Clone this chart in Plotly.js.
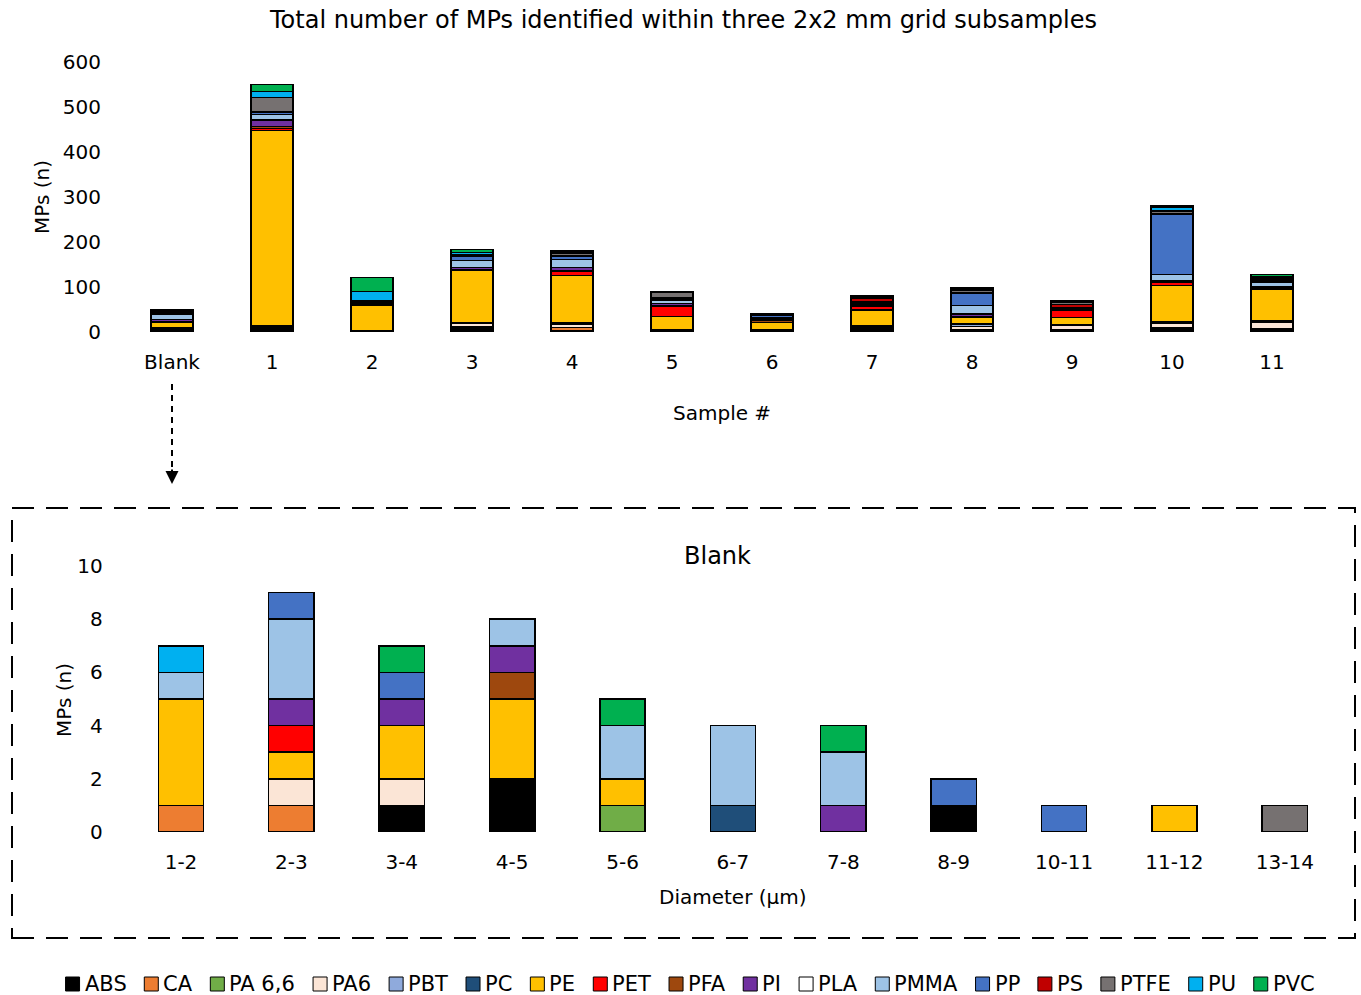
<!DOCTYPE html>
<html><head><meta charset="utf-8">
<script src="https://cdn.plot.ly/plotly-3.0.1.min.js"></script>
<style>html,body{margin:0;padding:0;background:#fff}#chart{width:1361px;height:995px}</style>
</head><body><div id="chart"></div>
<script>
// ---------- data ----------
const polymers = ["ABS","CA","PA 6,6","PA6","PBT","PC","PE","PET","PFA","PI","PLA","PMMA","PP","PS","PTFE","PU","PVC"];
const polymerColors = ["#000000","#ED7D31","#70AD47","#FBE5D6","#8FAADC","#1F4E79","#FFC000","#FF0000","#9E480E","#7030A0","#FFFFFF","#9DC3E6","#4472C4","#C00000","#767171","#00B0F0","#00B050"];

// Top chart: samples
const samples = ["Blank","1","2","3","4","5","6","7","8","9","10","11"];
const topABS   = [4,6,2,10,4,3,4,13,5,5,8,6];
const topCA    = [2,3,0,1,6,0,0,1,1,1,1,1];
const topPA66  = [1,1,0,0,0,0,0,0,0,0,1,0];
const topPA6   = [2,2,1,8,7,2,1,1,7,9,9,15];
const topPBT   = [0,1,0,2,3,0,0,0,3,0,2,2];
const topPC    = [1,1,0,1,0,0,1,0,2,1,3,2];
const topPE    = [12,434,56,115,106,30,15,34,14,17,80,68];
const topPET   = [1,5,1,1,8,22,1,8,2,14,7,1];
const topPFA   = [1,3,0,0,2,1,3,3,1,2,1,1];
const topPI    = [4,15,4,5,8,6,2,3,5,2,2,4];
const topPLA   = [0,1,0,0,0,0,0,0,1,0,1,0];
const topPMMA  = [12,12,2,16,18,7,4,2,18,2,13,11];
const topPP    = [4,3,2,8,6,3,5,3,26,1,134,3];
const topPS    = [0,3,0,2,2,2,1,6,3,8,2,2];
const topPTFE  = [1,32,2,3,4,12,2,4,4,3,5,4];
const topPU    = [1,12,20,4,3,1,1,2,3,2,7,3];
const topPVC   = [3,16,32,8,3,1,2,2,3,3,4,4];

// Bottom chart: blank by diameter
const diameters = ["1-2","2-3","3-4","4-5","5-6","6-7","7-8","8-9","10-11","11-12","13-14"];
const blankABS  = [0,0,1,2,0,0,0,1,0,0,0];
const blankCA   = [1,1,0,0,0,0,0,0,0,0,0];
const blankPA66 = [0,0,0,0,1,0,0,0,0,0,0];
const blankPA6  = [0,1,1,0,0,0,0,0,0,0,0];
const blankPBT  = [0,0,0,0,0,0,0,0,0,0,0];
const blankPC   = [0,0,0,0,0,1,0,0,0,0,0];
const blankPE   = [4,1,2,3,1,0,0,0,0,1,0];
const blankPET  = [0,1,0,0,0,0,0,0,0,0,0];
const blankPFA  = [0,0,0,1,0,0,0,0,0,0,0];
const blankPI   = [0,1,1,1,0,0,1,0,0,0,0];
const blankPLA  = [0,0,0,0,0,0,0,0,0,0,0];
const blankPMMA = [1,3,0,1,2,3,2,0,0,0,0];
const blankPP   = [0,1,1,0,0,0,0,1,1,0,0];
const blankPS   = [0,0,0,0,0,0,0,0,0,0,0];
const blankPTFE = [0,0,0,0,0,0,0,0,0,0,1];
const blankPU   = [1,0,0,0,0,0,0,0,0,0,0];
const blankPVC  = [0,0,1,0,1,0,1,0,0,0,0];

const topSeries = [topABS,topCA,topPA66,topPA6,topPBT,topPC,topPE,topPET,topPFA,topPI,topPLA,topPMMA,topPP,topPS,topPTFE,topPU,topPVC];
const blankSeries = [blankABS,blankCA,blankPA66,blankPA6,blankPBT,blankPC,blankPE,blankPET,blankPFA,blankPI,blankPLA,blankPMMA,blankPP,blankPS,blankPTFE,blankPU,blankPVC];

// ---------- layout helpers ----------
const W = 1361, H = 995;
const px = x => x / W;
const py = y => 1 - y / H;
const FAM = "DejaVu Sans";
const FONT = "'DejaVu Sans', sans-serif";
const nz = arr => arr.map(v => v === 0 ? null : v);

const traces = [];
polymers.forEach((name, i) => {
  traces.push({
    type: "bar", name: name, x: samples, y: nz(topSeries[i]),
    xaxis: "x", yaxis: "y", width: 0.42, legendgroup: name,
    marker: {color: polymerColors[i], line: {color: "#000", width: 1.2}},
    hoverinfo: "x+y+name"
  });
});
polymers.forEach((name, i) => {
  traces.push({
    type: "bar", name: name, x: diameters, y: nz(blankSeries[i]),
    xaxis: "x2", yaxis: "y2", width: 0.41, legendgroup: name, showlegend: false,
    marker: {color: polymerColors[i], line: {color: "#000", width: 1.5}},
    hoverinfo: "x+y+name"
  });
});

// ---------- legend built from the series names (measured text) ----------
const legFont = 21;
const cv = document.createElement("canvas").getContext("2d");
cv.font = legFont + "px '" + FAM + "'";
const sq = 14, sqGap = 5, itemGap = 18;
const widths = polymers.map(n => cv.measureText(n).width);
const totalW = widths.reduce((a, w) => a + sq + sqGap + w + itemGap, 0) - itemGap;
const legCenterX = 690, legY = 984;
let cx = legCenterX - totalW / 2;
const legShapes = [], legAnn = [];
polymers.forEach((n, i) => {
  legShapes.push({type: "rect", xref: "paper", yref: "paper",
    x0: px(cx), x1: px(cx + sq), y0: py(legY + sq / 2), y1: py(legY - sq / 2),
    fillcolor: polymerColors[i], line: {color: "#000", width: 1}});
  legAnn.push({xref: "paper", yref: "paper", x: px(cx + sq + sqGap - 1), y: py(legY),
    text: n, showarrow: false, xanchor: "left", yanchor: "middle", borderpad: 0,
    font: {family: FONT, size: legFont, color: "#000"}});
  cx += sq + sqGap + widths[i] + itemGap;
});

const axisFont = {family: FONT, size: 20, color: "#000"};
const layout = {
  width: W, height: H,
  margin: {l: 0, r: 0, t: 0, b: 0, autoexpand: false},
  paper_bgcolor: "#fff", plot_bgcolor: "rgba(0,0,0,0)",
  barmode: "stack",
  font: {family: FONT, color: "#000"},
  showlegend: false,
  xaxis: {domain: [px(122), px(1322)], anchor: "y", type: "category",
          showline: false, showgrid: false, zeroline: false, ticks: "",
          tickfont: axisFont, ticklabelstandoff: 16, fixedrange: true, automargin: false},
  yaxis: {domain: [py(332), py(62)], anchor: "x", range: [0, 600],
          tickvals: [0,100,200,300,400,500,600], showline: false, showgrid: false,
          zeroline: false, ticks: "", tickfont: axisFont, ticklabelstandoff: 20, fixedrange: true, automargin: false},
  xaxis2: {domain: [px(125.8), px(1340)], anchor: "y2", type: "category",
           showline: false, showgrid: false, zeroline: false, ticks: "",
           tickfont: axisFont, ticklabelstandoff: 16, fixedrange: true, automargin: false},
  yaxis2: {domain: [py(832), py(566)], anchor: "x2", range: [0, 10],
           tickvals: [0,2,4,6,8,10], showline: false, showgrid: false,
           zeroline: false, ticks: "", tickfont: axisFont, ticklabelstandoff: 22, fixedrange: true, automargin: false},
  shapes: [
    {type: "rect", xref: "paper", yref: "paper", x0: px(12), x1: px(1355), y0: py(938), y1: py(508),
     line: {color: "#000", width: 2, dash: "22px,12px"}, fillcolor: "rgba(0,0,0,0)"},
    {type: "line", xref: "paper", yref: "paper", x0: px(172), x1: px(172), y0: py(384), y1: py(472),
     line: {color: "#000", width: 2, dash: "6px,5px"}}
  ].concat(legShapes),
  annotations: [
    {xref: "paper", yref: "paper", x: px(683), y: py(20), text: "Total number of MPs identified within three 2x2 mm grid subsamples",
     showarrow: false, xanchor: "center", yanchor: "middle", font: {family: FONT, size: 24, color: "#000"}},
    {xref: "paper", yref: "paper", x: px(42), y: py(197), text: "MPs (n)", textangle: -90,
     showarrow: false, xanchor: "center", yanchor: "middle", font: {family: FONT, size: 20, color: "#000"}},
    {xref: "paper", yref: "paper", x: px(722), y: py(413), text: "Sample #",
     showarrow: false, xanchor: "center", yanchor: "middle", font: {family: FONT, size: 20, color: "#000"}},
    {xref: "paper", yref: "paper", x: px(717), y: py(556), text: "Blank",
     showarrow: false, xanchor: "center", yanchor: "middle", font: {family: FONT, size: 24, color: "#000"}},
    {xref: "paper", yref: "paper", x: px(64), y: py(700), text: "MPs (n)", textangle: -90,
     showarrow: false, xanchor: "center", yanchor: "middle", font: {family: FONT, size: 20, color: "#000"}},
    {xref: "paper", yref: "paper", x: px(733), y: py(897), text: "Diameter (µm)",
     showarrow: false, xanchor: "center", yanchor: "middle", font: {family: FONT, size: 20, color: "#000"}},
    {xref: "paper", yref: "paper", x: px(172), y: py(484), ax: 0, ay: -16, text: "",
     showarrow: true, arrowhead: 2, arrowsize: 1.3, arrowwidth: 2, arrowcolor: "#000"}
  ].concat(legAnn)
};

Plotly.newPlot("chart", traces, layout, {displayModeBar: false, staticPlot: true});
</script>
</body></html>
